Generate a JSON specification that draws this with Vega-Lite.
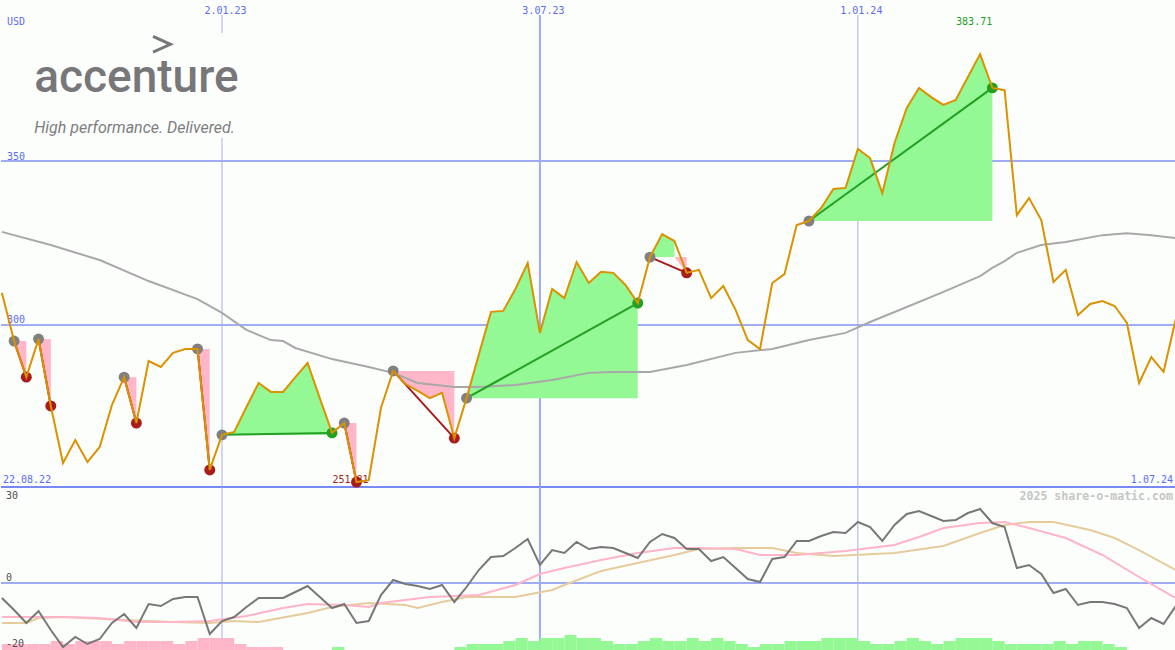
{
"$schema": "https://vega.github.io/schema/vega-lite/v6.json",
"background": "#fcfefc",
"padding": 0,
"spacing": 0,
"bounds": "flush",
"config": {"view": {"stroke": null}},
"datasets": {
"vgrid": [{"d":"2023-01-02","k":"year","t":"2.01.23"},{"d":"2023-07-03","k":"half","t":"3.07.23"},{"d":"2024-01-01","k":"year","t":"1.01.24"}],
"hgrid": [{"v":300,"t":"300"},{"v":350,"t":"350"}],
"price": [
{"d":"2022-08-29","p":309.8},{"d":"2022-09-05","p":295.1},{"d":"2022-09-12","p":284.1},{"d":"2022-09-19","p":295.7},{"d":"2022-09-26","p":275.3},{"d":"2022-10-03","p":257.9},{"d":"2022-10-10","p":264.9},{"d":"2022-10-17","p":258.2},{"d":"2022-10-24","p":262.8},{"d":"2022-10-31","p":275.6},{"d":"2022-11-07","p":284.1},{"d":"2022-11-14","p":270.1},{"d":"2022-11-21","p":289.0},{"d":"2022-11-28","p":287.2},{"d":"2022-12-05","p":291.5},{"d":"2022-12-12","p":292.7},{"d":"2022-12-19","p":292.7},{"d":"2022-12-26","p":255.8},{"d":"2023-01-02","p":266.5},{"d":"2023-01-09","p":267.4},{"d":"2023-01-16","p":275.0},{"d":"2023-01-23","p":282.3},{"d":"2023-01-30","p":279.6},{"d":"2023-02-06","p":279.6},{"d":"2023-02-13","p":284.1},{"d":"2023-02-20","p":288.4},{"d":"2023-02-27","p":277.7},{"d":"2023-03-06","p":267.1},{"d":"2023-03-13","p":270.1},{"d":"2023-03-20","p":252.1},{"d":"2023-03-27","p":252.7},{"d":"2023-04-03","p":274.7},{"d":"2023-04-10","p":286.0},{"d":"2023-04-17","p":282.0},{"d":"2023-04-24","p":279.9},{"d":"2023-05-01","p":277.7},{"d":"2023-05-08","p":279.3},{"d":"2023-05-15","p":265.5},{"d":"2023-05-22","p":277.7},{"d":"2023-05-29","p":290.9},{"d":"2023-06-05","p":304.0},{"d":"2023-06-12","p":304.3},{"d":"2023-06-19","p":311.0},{"d":"2023-06-26","p":318.9},{"d":"2023-07-03","p":297.6},{"d":"2023-07-10","p":311.0},{"d":"2023-07-17","p":308.2},{"d":"2023-07-24","p":319.2},{"d":"2023-07-31","p":312.8},{"d":"2023-08-07","p":316.2},{"d":"2023-08-14","p":315.9},{"d":"2023-08-21","p":312.2},{"d":"2023-08-28","p":306.7},{"d":"2023-09-04","p":320.7},{"d":"2023-09-11","p":327.7},{"d":"2023-09-18","p":325.6},{"d":"2023-09-25","p":315.9},{"d":"2023-10-02","p":316.8},{"d":"2023-10-09","p":308.2},{"d":"2023-10-16","p":311.9},{"d":"2023-10-23","p":304.6},{"d":"2023-10-30","p":295.4},{"d":"2023-11-06","p":292.7},{"d":"2023-11-13","p":312.8},{"d":"2023-11-20","p":315.5},{"d":"2023-11-27","p":330.5},{"d":"2023-12-04","p":331.7},{"d":"2023-12-11","p":335.7},{"d":"2023-12-18","p":341.5},{"d":"2023-12-25","p":341.8},{"d":"2024-01-01","p":353.7},{"d":"2024-01-08","p":350.9},{"d":"2024-01-15","p":340.2},{"d":"2024-01-22","p":355.5},{"d":"2024-01-29","p":366.2},{"d":"2024-02-05","p":372.3},{"d":"2024-02-12","p":369.5},{"d":"2024-02-19","p":367.1},{"d":"2024-02-26","p":368.6},{"d":"2024-03-04","p":375.6},{"d":"2024-03-11","p":382.6},{"d":"2024-03-18","p":372.3},{"d":"2024-03-25","p":371.6},{"d":"2024-04-01","p":333.5},{"d":"2024-04-08","p":338.7},{"d":"2024-04-15","p":332.0},{"d":"2024-04-22","p":313.1},{"d":"2024-04-29","p":316.8},{"d":"2024-05-06","p":303.0},{"d":"2024-05-13","p":306.4},{"d":"2024-05-20","p":307.3},{"d":"2024-05-27","p":305.8},{"d":"2024-06-03","p":300.6},{"d":"2024-06-10","p":282.3},{"d":"2024-06-17","p":290.2},{"d":"2024-06-24","p":285.7},{"d":"2024-07-01","p":301.8}
],
"ma": [
{"d":"2022-08-29","p":328.4},{"d":"2022-09-26","p":324.4},{"d":"2022-10-24","p":319.8},{"d":"2022-11-21","p":313.4},{"d":"2022-12-19","p":307.9},{"d":"2023-01-02","p":303.7},{"d":"2023-01-16","p":298.5},{"d":"2023-01-30","p":295.4},{"d":"2023-02-06","p":295.1},{"d":"2023-02-13","p":293.0},{"d":"2023-03-06","p":289.6},{"d":"2023-03-27","p":287.2},{"d":"2023-04-10","p":285.4},{"d":"2023-04-24","p":282.3},{"d":"2023-05-15","p":281.1},{"d":"2023-05-29","p":281.1},{"d":"2023-06-19","p":281.7},{"d":"2023-07-10","p":283.2},{"d":"2023-07-31","p":285.4},{"d":"2023-08-14","p":285.7},{"d":"2023-09-04","p":285.7},{"d":"2023-09-25","p":287.8},{"d":"2023-10-23","p":291.5},{"d":"2023-11-13","p":292.7},{"d":"2023-12-04","p":295.4},{"d":"2023-12-25","p":297.6},{"d":"2024-01-08","p":300.9},{"d":"2024-01-29","p":305.5},{"d":"2024-02-19","p":310.1},{"d":"2024-03-11","p":314.9},{"d":"2024-03-18","p":317.4},{"d":"2024-03-25","p":319.5},{"d":"2024-04-01","p":322.0},{"d":"2024-04-15","p":324.4},{"d":"2024-04-29","p":325.3},{"d":"2024-05-20","p":327.4},{"d":"2024-06-03","p":328.0},{"d":"2024-06-17","p":327.4},{"d":"2024-07-01","p":326.5}
],
"trades": [
{"t":1,"d":"2022-09-05","p":295.1,"r":"entry","res":"loss"},{"t":1,"d":"2022-09-12","p":284.1,"r":"loss","res":"loss"},
{"t":2,"d":"2022-09-19","p":295.7,"r":"entry","res":"loss"},{"t":2,"d":"2022-09-26","p":275.3,"r":"loss","res":"loss"},
{"t":3,"d":"2022-11-07","p":284.1,"r":"entry","res":"loss"},{"t":3,"d":"2022-11-14","p":270.1,"r":"loss","res":"loss"},
{"t":4,"d":"2022-12-19","p":292.7,"r":"entry","res":"loss"},{"t":4,"d":"2022-12-26","p":255.8,"r":"loss","res":"loss"},
{"t":5,"d":"2023-01-02","p":266.5,"r":"entry","res":"win"},{"t":5,"d":"2023-03-06","p":267.1,"r":"win","res":"win"},
{"t":6,"d":"2023-03-13","p":270.1,"r":"entry","res":"loss"},{"t":6,"d":"2023-03-20","p":252.1,"r":"loss","res":"loss"},
{"t":7,"d":"2023-04-10","p":286.0,"r":"entry","res":"loss"},{"t":7,"d":"2023-05-15","p":265.5,"r":"loss","res":"loss"},
{"t":8,"d":"2023-05-22","p":277.7,"r":"entry","res":"win"},{"t":8,"d":"2023-08-28","p":306.7,"r":"win","res":"win"},
{"t":9,"d":"2023-09-04","p":320.7,"r":"entry","res":"loss"},{"t":9,"d":"2023-09-25","p":315.9,"r":"loss","res":"loss"},
{"t":10,"d":"2023-12-04","p":331.7,"r":"entry","res":"win"},{"t":10,"d":"2024-03-18","p":372.3,"r":"win","res":"win"}
],
"fills": [
{"t":"1","c":"loss","d":"2022-09-05","p":295.1,"b":295.1},{"t":"1","c":"loss","d":"2022-09-12","p":284.1,"b":295.1},
{"t":"2","c":"loss","d":"2022-09-19","p":295.7,"b":295.7},{"t":"2","c":"loss","d":"2022-09-26","p":275.3,"b":295.7},
{"t":"3","c":"loss","d":"2022-11-07","p":284.1,"b":284.1},{"t":"3","c":"loss","d":"2022-11-14","p":270.1,"b":284.1},
{"t":"4","c":"loss","d":"2022-12-19","p":292.7,"b":292.7},{"t":"4","c":"loss","d":"2022-12-26","p":255.8,"b":292.7},
{"t":"5","c":"gain","d":"2023-01-02","p":266.5,"b":266.5},{"t":"5","c":"gain","d":"2023-01-09","p":267.4,"b":266.5},{"t":"5","c":"gain","d":"2023-01-16","p":275.0,"b":266.5},{"t":"5","c":"gain","d":"2023-01-23","p":282.3,"b":266.5},{"t":"5","c":"gain","d":"2023-01-30","p":279.6,"b":266.5},{"t":"5","c":"gain","d":"2023-02-06","p":279.6,"b":266.5},{"t":"5","c":"gain","d":"2023-02-13","p":284.1,"b":266.5},{"t":"5","c":"gain","d":"2023-02-20","p":288.4,"b":266.5},{"t":"5","c":"gain","d":"2023-02-27","p":277.7,"b":266.5},{"t":"5","c":"gain","d":"2023-03-06","p":267.1,"b":266.5},
{"t":"6","c":"loss","d":"2023-03-13","p":270.1,"b":270.1},{"t":"6","c":"loss","d":"2023-03-20","p":252.1,"b":270.1},
{"t":"7","c":"loss","d":"2023-04-10","p":286.0,"b":286.0},{"t":"7","c":"loss","d":"2023-04-17","p":282.0,"b":286.0},{"t":"7","c":"loss","d":"2023-04-24","p":279.9,"b":286.0},{"t":"7","c":"loss","d":"2023-05-01","p":277.7,"b":286.0},{"t":"7","c":"loss","d":"2023-05-08","p":279.3,"b":286.0},{"t":"7","c":"loss","d":"2023-05-15","p":265.5,"b":286.0},
{"t":"8","c":"gain","d":"2023-05-22","p":277.7,"b":277.7},{"t":"8","c":"gain","d":"2023-05-29","p":290.9,"b":277.7},{"t":"8","c":"gain","d":"2023-06-05","p":304.0,"b":277.7},{"t":"8","c":"gain","d":"2023-06-12","p":304.3,"b":277.7},{"t":"8","c":"gain","d":"2023-06-19","p":311.0,"b":277.7},{"t":"8","c":"gain","d":"2023-06-26","p":318.9,"b":277.7},{"t":"8","c":"gain","d":"2023-07-03","p":297.6,"b":277.7},{"t":"8","c":"gain","d":"2023-07-10","p":311.0,"b":277.7},{"t":"8","c":"gain","d":"2023-07-17","p":308.2,"b":277.7},{"t":"8","c":"gain","d":"2023-07-24","p":319.2,"b":277.7},{"t":"8","c":"gain","d":"2023-07-31","p":312.8,"b":277.7},{"t":"8","c":"gain","d":"2023-08-07","p":316.2,"b":277.7},{"t":"8","c":"gain","d":"2023-08-14","p":315.9,"b":277.7},{"t":"8","c":"gain","d":"2023-08-21","p":312.2,"b":277.7},{"t":"8","c":"gain","d":"2023-08-28","p":306.7,"b":277.7},
{"t":"9a","c":"gain","d":"2023-09-04","p":320.7,"b":320.7},{"t":"9a","c":"gain","d":"2023-09-11","p":327.7,"b":320.7},{"t":"9a","c":"gain","d":"2023-09-18","p":325.6,"b":320.7},
{"t":"9b","c":"loss","d":"2023-09-18","p":320.7,"b":320.7},{"t":"9b","c":"loss","d":"2023-09-25","p":315.9,"b":320.7},
{"t":"10","c":"gain","d":"2023-12-04","p":331.7,"b":331.7},{"t":"10","c":"gain","d":"2023-12-11","p":335.7,"b":331.7},{"t":"10","c":"gain","d":"2023-12-18","p":341.5,"b":331.7},{"t":"10","c":"gain","d":"2023-12-25","p":341.8,"b":331.7},{"t":"10","c":"gain","d":"2024-01-01","p":353.7,"b":331.7},{"t":"10","c":"gain","d":"2024-01-08","p":350.9,"b":331.7},{"t":"10","c":"gain","d":"2024-01-15","p":340.2,"b":331.7},{"t":"10","c":"gain","d":"2024-01-22","p":355.5,"b":331.7},{"t":"10","c":"gain","d":"2024-01-29","p":366.2,"b":331.7},{"t":"10","c":"gain","d":"2024-02-05","p":372.3,"b":331.7},{"t":"10","c":"gain","d":"2024-02-12","p":369.5,"b":331.7},{"t":"10","c":"gain","d":"2024-02-19","p":367.1,"b":331.7},{"t":"10","c":"gain","d":"2024-02-26","p":368.6,"b":331.7},{"t":"10","c":"gain","d":"2024-03-04","p":375.6,"b":331.7},{"t":"10","c":"gain","d":"2024-03-11","p":382.6,"b":331.7},{"t":"10","c":"gain","d":"2024-03-18","p":372.3,"b":331.7}
],
"mask": [
{"d":"2024-01-10T23:30:00Z","p":346.35,"b":346.35},{"d":"2024-01-15T00:00:00Z","p":340.2,"b":347.9},{"d":"2024-01-19T06:45:00Z","p":349.5,"b":349.5}
],
"hist": [
{"d":"2022-08-29","e":"2022-09-05","v":-20.56,"s":"neg"},{"d":"2022-09-05","e":"2022-09-12","v":-20.56,"s":"neg"},{"d":"2022-09-12","e":"2022-09-19","v":-20.56,"s":"neg"},{"d":"2022-09-19","e":"2022-09-26","v":-20.56,"s":"neg"},{"d":"2022-09-26","e":"2022-10-03","v":-19.55,"s":"neg"},{"d":"2022-10-03","e":"2022-10-10","v":-20.56,"s":"neg"},{"d":"2022-10-10","e":"2022-10-17","v":-19.55,"s":"neg"},{"d":"2022-10-17","e":"2022-10-24","v":-19.55,"s":"neg"},{"d":"2022-10-24","e":"2022-10-31","v":-19.55,"s":"neg"},{"d":"2022-10-31","e":"2022-11-07","v":-20.56,"s":"neg"},{"d":"2022-11-07","e":"2022-11-14","v":-19.55,"s":"neg"},{"d":"2022-11-14","e":"2022-11-21","v":-19.55,"s":"neg"},{"d":"2022-11-21","e":"2022-11-28","v":-19.55,"s":"neg"},{"d":"2022-11-28","e":"2022-12-05","v":-19.55,"s":"neg"},{"d":"2022-12-05","e":"2022-12-12","v":-20.56,"s":"neg"},{"d":"2022-12-12","e":"2022-12-19","v":-19.55,"s":"neg"},{"d":"2022-12-19","e":"2022-12-26","v":-18.54,"s":"neg"},{"d":"2022-12-26","e":"2023-01-02","v":-18.54,"s":"neg"},{"d":"2023-01-02","e":"2023-01-09","v":-18.54,"s":"neg"},{"d":"2023-01-09","e":"2023-01-16","v":-20.56,"s":"neg"},{"d":"2023-01-16","e":"2023-01-23","v":-21.57,"s":"neg"},{"d":"2023-01-23","e":"2023-01-30","v":-21.57,"s":"neg"},{"d":"2023-01-30","e":"2023-02-06","v":-21.57,"s":"neg"},
{"d":"2023-03-06","e":"2023-03-13","v":-21.57,"s":"pos"},
{"d":"2023-05-15","e":"2023-05-22","v":-21.57,"s":"pos"},{"d":"2023-05-22","e":"2023-05-29","v":-20.56,"s":"pos"},{"d":"2023-05-29","e":"2023-06-05","v":-20.56,"s":"pos"},{"d":"2023-06-05","e":"2023-06-12","v":-20.56,"s":"pos"},{"d":"2023-06-12","e":"2023-06-19","v":-19.55,"s":"pos"},{"d":"2023-06-19","e":"2023-06-26","v":-18.54,"s":"pos"},{"d":"2023-06-26","e":"2023-07-03","v":-19.55,"s":"pos"},{"d":"2023-07-03","e":"2023-07-10","v":-18.54,"s":"pos"},{"d":"2023-07-10","e":"2023-07-17","v":-18.54,"s":"pos"},{"d":"2023-07-17","e":"2023-07-24","v":-17.52,"s":"pos"},{"d":"2023-07-24","e":"2023-07-31","v":-18.54,"s":"pos"},{"d":"2023-07-31","e":"2023-08-07","v":-18.54,"s":"pos"},{"d":"2023-08-07","e":"2023-08-14","v":-19.55,"s":"pos"},{"d":"2023-08-14","e":"2023-08-21","v":-20.56,"s":"pos"},{"d":"2023-08-21","e":"2023-08-28","v":-20.56,"s":"pos"},{"d":"2023-08-28","e":"2023-09-04","v":-19.55,"s":"pos"},{"d":"2023-09-04","e":"2023-09-11","v":-18.54,"s":"pos"},{"d":"2023-09-11","e":"2023-09-18","v":-19.55,"s":"pos"},{"d":"2023-09-18","e":"2023-09-25","v":-19.55,"s":"pos"},{"d":"2023-09-25","e":"2023-10-02","v":-18.54,"s":"pos"},{"d":"2023-10-02","e":"2023-10-09","v":-19.55,"s":"pos"},{"d":"2023-10-09","e":"2023-10-16","v":-18.54,"s":"pos"},{"d":"2023-10-16","e":"2023-10-23","v":-19.55,"s":"pos"},{"d":"2023-10-23","e":"2023-10-30","v":-20.56,"s":"pos"},{"d":"2023-10-30","e":"2023-11-06","v":-21.57,"s":"pos"},{"d":"2023-11-06","e":"2023-11-13","v":-20.56,"s":"pos"},{"d":"2023-11-13","e":"2023-11-20","v":-20.56,"s":"pos"},{"d":"2023-11-20","e":"2023-11-27","v":-19.55,"s":"pos"},{"d":"2023-11-27","e":"2023-12-04","v":-19.55,"s":"pos"},{"d":"2023-12-04","e":"2023-12-11","v":-19.55,"s":"pos"},{"d":"2023-12-11","e":"2023-12-18","v":-18.54,"s":"pos"},{"d":"2023-12-18","e":"2023-12-25","v":-18.54,"s":"pos"},{"d":"2023-12-25","e":"2024-01-01","v":-18.54,"s":"pos"},{"d":"2024-01-01","e":"2024-01-08","v":-19.55,"s":"pos"},{"d":"2024-01-08","e":"2024-01-15","v":-20.56,"s":"pos"},{"d":"2024-01-15","e":"2024-01-22","v":-20.56,"s":"pos"},{"d":"2024-01-22","e":"2024-01-29","v":-19.55,"s":"pos"},{"d":"2024-01-29","e":"2024-02-05","v":-18.54,"s":"pos"},{"d":"2024-02-05","e":"2024-02-12","v":-19.55,"s":"pos"},{"d":"2024-02-12","e":"2024-02-19","v":-20.56,"s":"pos"},{"d":"2024-02-19","e":"2024-02-26","v":-19.55,"s":"pos"},{"d":"2024-02-26","e":"2024-03-04","v":-18.54,"s":"pos"},{"d":"2024-03-04","e":"2024-03-11","v":-18.54,"s":"pos"},{"d":"2024-03-11","e":"2024-03-18","v":-18.54,"s":"pos"},{"d":"2024-03-18","e":"2024-03-25","v":-19.55,"s":"pos"},{"d":"2024-03-25","e":"2024-04-01","v":-20.56,"s":"pos"},{"d":"2024-04-01","e":"2024-04-08","v":-20.56,"s":"pos"},{"d":"2024-04-08","e":"2024-04-15","v":-20.56,"s":"pos"},{"d":"2024-04-15","e":"2024-04-22","v":-20.56,"s":"pos"},{"d":"2024-04-22","e":"2024-04-29","v":-19.55,"s":"pos"},{"d":"2024-04-29","e":"2024-05-06","v":-20.56,"s":"pos"},{"d":"2024-05-06","e":"2024-05-13","v":-19.55,"s":"pos"},{"d":"2024-05-13","e":"2024-05-20","v":-19.55,"s":"pos"},{"d":"2024-05-20","e":"2024-05-27","v":-20.56,"s":"pos"},{"d":"2024-05-27","e":"2024-06-03","v":-21.57,"s":"pos"}
],
"osc": [
{"d":"2022-08-29","v":-5.06},{"d":"2022-09-05","v":-9.10},{"d":"2022-09-12","v":-13.48},{"d":"2022-09-19","v":-9.44},{"d":"2022-09-26","v":-15.84},{"d":"2022-10-03","v":-21.57},{"d":"2022-10-10","v":-18.20},{"d":"2022-10-17","v":-20.56},{"d":"2022-10-24","v":-18.87},{"d":"2022-10-31","v":-13.48},{"d":"2022-11-07","v":-10.45},{"d":"2022-11-14","v":-15.17},{"d":"2022-11-21","v":-7.08},{"d":"2022-11-28","v":-7.75},{"d":"2022-12-05","v":-5.39},{"d":"2022-12-12","v":-4.72},{"d":"2022-12-19","v":-4.72},{"d":"2022-12-26","v":-17.19},{"d":"2023-01-02","v":-12.81},{"d":"2023-01-09","v":-11.46},{"d":"2023-01-16","v":-8.09},{"d":"2023-01-23","v":-5.06},{"d":"2023-01-30","v":-5.06},{"d":"2023-02-06","v":-5.06},{"d":"2023-02-13","v":-3.03},{"d":"2023-02-20","v":-1.01},{"d":"2023-02-27","v":-4.72},{"d":"2023-03-06","v":-8.43},{"d":"2023-03-13","v":-7.08},{"d":"2023-03-20","v":-13.48},{"d":"2023-03-27","v":-12.81},{"d":"2023-04-03","v":-4.04},{"d":"2023-04-10","v":1.01},{"d":"2023-04-17","v":-0.34},{"d":"2023-04-24","v":-1.01},{"d":"2023-05-01","v":-2.02},{"d":"2023-05-08","v":-0.67},{"d":"2023-05-15","v":-6.40},{"d":"2023-05-22","v":-1.35},{"d":"2023-05-29","v":4.38},{"d":"2023-06-05","v":8.76},{"d":"2023-06-12","v":9.10},{"d":"2023-06-19","v":11.80},{"d":"2023-06-26","v":14.83},{"d":"2023-07-03","v":6.07},{"d":"2023-07-10","v":11.12},{"d":"2023-07-17","v":10.11},{"d":"2023-07-24","v":13.82},{"d":"2023-07-31","v":11.46},{"d":"2023-08-07","v":12.13},{"d":"2023-08-14","v":11.80},{"d":"2023-08-21","v":10.11},{"d":"2023-08-28","v":8.43},{"d":"2023-09-04","v":13.82},{"d":"2023-09-11","v":16.52},{"d":"2023-09-18","v":15.17},{"d":"2023-09-25","v":11.46},{"d":"2023-10-02","v":11.46},{"d":"2023-10-09","v":7.41},{"d":"2023-10-16","v":8.76},{"d":"2023-10-23","v":5.06},{"d":"2023-10-30","v":1.35},{"d":"2023-11-06","v":0.34},{"d":"2023-11-13","v":8.09},{"d":"2023-11-20","v":8.76},{"d":"2023-11-27","v":14.16},{"d":"2023-12-04","v":14.16},{"d":"2023-12-11","v":15.84},{"d":"2023-12-18","v":17.19},{"d":"2023-12-25","v":16.85},{"d":"2024-01-01","v":20.56},{"d":"2024-01-08","v":18.87},{"d":"2024-01-15","v":14.16},{"d":"2024-01-22","v":19.55},{"d":"2024-01-29","v":23.26},{"d":"2024-02-05","v":24.27},{"d":"2024-02-12","v":22.58},{"d":"2024-02-19","v":20.90},{"d":"2024-02-26","v":21.23},{"d":"2024-03-04","v":23.59},{"d":"2024-03-11","v":24.94},{"d":"2024-03-18","v":20.22},{"d":"2024-03-25","v":18.87},{"d":"2024-04-01","v":5.06},{"d":"2024-04-08","v":6.07},{"d":"2024-04-15","v":3.03},{"d":"2024-04-22","v":-3.37},{"d":"2024-04-29","v":-2.02},{"d":"2024-05-06","v":-7.41},{"d":"2024-05-13","v":-6.40},{"d":"2024-05-20","v":-6.40},{"d":"2024-05-27","v":-7.08},{"d":"2024-06-03","v":-8.43},{"d":"2024-06-10","v":-15.17},{"d":"2024-06-17","v":-11.80},{"d":"2024-06-24","v":-13.82},{"d":"2024-07-01","v":-7.75}
],
"sig1": [
{"d":"2022-08-29","v":-11.46},{"d":"2022-09-12","v":-11.46},{"d":"2022-10-03","v":-11.46},{"d":"2022-10-24","v":-11.80},{"d":"2022-11-14","v":-13.14},{"d":"2022-12-05","v":-13.14},{"d":"2022-12-26","v":-12.81},{"d":"2023-01-16","v":-11.12},{"d":"2023-02-06","v":-8.43},{"d":"2023-02-20","v":-7.08},{"d":"2023-03-13","v":-7.41},{"d":"2023-03-27","v":-8.09},{"d":"2023-04-03","v":-6.74},{"d":"2023-04-17","v":-5.73},{"d":"2023-05-01","v":-4.72},{"d":"2023-05-29","v":-4.04},{"d":"2023-06-19","v":-0.67},{"d":"2023-07-03","v":3.03},{"d":"2023-07-17","v":5.06},{"d":"2023-08-07","v":7.75},{"d":"2023-08-28","v":10.11},{"d":"2023-09-18","v":11.80},{"d":"2023-10-02","v":11.80},{"d":"2023-10-23","v":11.46},{"d":"2023-11-06","v":9.44},{"d":"2023-11-27","v":9.44},{"d":"2023-12-25","v":10.79},{"d":"2024-01-22","v":12.81},{"d":"2024-02-05","v":15.50},{"d":"2024-02-19","v":18.54},{"d":"2024-03-11","v":20.22},{"d":"2024-03-25","v":20.56},{"d":"2024-04-08","v":18.54},{"d":"2024-04-29","v":15.17},{"d":"2024-05-20","v":9.44},{"d":"2024-06-10","v":2.02},{"d":"2024-07-01","v":-5.06}
],
"sig2": [
{"d":"2022-08-29","v":-13.48},{"d":"2022-09-12","v":-13.48},{"d":"2022-09-19","v":-11.80},{"d":"2022-10-03","v":-11.46},{"d":"2022-11-07","v":-12.47},{"d":"2022-12-05","v":-13.14},{"d":"2022-12-26","v":-13.48},{"d":"2023-01-09","v":-12.81},{"d":"2023-01-23","v":-13.14},{"d":"2023-02-20","v":-10.11},{"d":"2023-03-06","v":-8.09},{"d":"2023-03-27","v":-6.74},{"d":"2023-04-17","v":-7.41},{"d":"2023-04-24","v":-8.43},{"d":"2023-05-08","v":-6.40},{"d":"2023-05-22","v":-4.72},{"d":"2023-06-19","v":-4.72},{"d":"2023-07-10","v":-2.36},{"d":"2023-07-17","v":-0.67},{"d":"2023-08-07","v":4.04},{"d":"2023-08-28","v":6.74},{"d":"2023-09-18","v":9.44},{"d":"2023-10-02","v":11.46},{"d":"2023-10-23","v":11.80},{"d":"2023-11-13","v":11.80},{"d":"2023-11-27","v":10.11},{"d":"2023-12-18","v":9.10},{"d":"2024-01-22","v":10.11},{"d":"2024-02-19","v":12.47},{"d":"2024-03-11","v":16.85},{"d":"2024-03-25","v":19.55},{"d":"2024-04-08","v":20.56},{"d":"2024-04-22","v":20.56},{"d":"2024-05-13","v":17.86},{"d":"2024-05-27","v":15.17},{"d":"2024-06-10","v":11.12},{"d":"2024-07-01","v":4.38}
],
"ilab": [{"v":30,"t":"30"},{"v":-20,"t":"-20"}]
},
"vconcat": [
{
"width": 1175, "height": 487,
"resolve": {"scale": {"color": "independent"}},
"layer": [
{"data": {"name": "hgrid"},
 "mark": {"type": "rule", "color": "#a0acf4", "strokeWidth": 2},
 "encoding": {"y": {"field": "v", "type": "quantitative", "scale": {"domain": [250.6, 399.1], "zero": false, "nice": false}, "axis": null}}},
{"data": {"name": "vgrid"}, "transform": [{"filter": "datum.k == 'half'"}],
 "mark": {"type": "rule", "color": "#9eaaf2", "strokeWidth": 2},
 "encoding": {"x": {"field": "d", "type": "temporal", "scale": {"type": "utc", "domain": [{"year":2022,"month":8,"date":28,"hours":12,"utc":true},{"year":2024,"month":7,"date":1,"hours":3,"utc":true}]}, "axis": null},
  "y": {"datum": 394.5, "scale": {"domain": [250.6, 399.1], "zero": false, "nice": false}, "axis": null}, "y2": {"datum": 250.6}}},
{"data": {"name": "vgrid"}, "transform": [{"filter": "datum.k == 'year'"}],
 "mark": {"type": "rule", "color": "#a9b1e2", "strokeWidth": 1},
 "encoding": {"x": {"field": "d", "type": "temporal", "scale": {"type": "utc", "domain": [{"year":2022,"month":8,"date":28,"hours":12,"utc":true},{"year":2024,"month":7,"date":1,"hours":3,"utc":true}]}, "axis": null},
  "y": {"datum": 394.5, "scale": {"domain": [250.6, 399.1], "zero": false, "nice": false}, "axis": null}, "y2": {"datum": 250.6}}},
{"data": {"name": "vgrid"},
 "mark": {"type": "text", "font": "DejaVu Sans Mono", "fontSize": 10, "color": "#5b6cf2", "align": "center", "baseline": "alphabetic", "dx": 3.5, "dy": 13.5},
 "encoding": {"x": {"field": "d", "type": "temporal", "scale": {"type": "utc", "domain": [{"year":2022,"month":8,"date":28,"hours":12,"utc":true},{"year":2024,"month":7,"date":1,"hours":3,"utc":true}]}, "axis": null},
  "y": {"datum": 399.1, "scale": {"domain": [250.6, 399.1], "zero": false, "nice": false}, "axis": null}, "text": {"field": "t"}}},
{"data": {"values": [{}]},
 "mark": {"type": "rule", "color": "#7888f4", "strokeWidth": 2},
 "encoding": {"y": {"datum": 250.6, "scale": {"domain": [250.6, 399.1], "zero": false, "nice": false}, "axis": null}}},
{"data": {"name": "hgrid"},
 "mark": {"type": "text", "font": "DejaVu Sans Mono", "fontSize": 10, "color": "#5b6cf2", "align": "left", "baseline": "alphabetic", "dx": 6, "dy": -1.5},
 "encoding": {"x": {"datum": {"year":2022,"month":8,"date":28,"hours":12,"utc":true}, "type": "temporal", "scale": {"type": "utc", "domain": [{"year":2022,"month":8,"date":28,"hours":12,"utc":true},{"year":2024,"month":7,"date":1,"hours":3,"utc":true}]}, "axis": null},
  "y": {"field": "v", "type": "quantitative", "scale": {"domain": [250.6, 399.1], "zero": false, "nice": false}, "axis": null}, "text": {"field": "t"}}},
{"data": {"values": [{"t": "USD"}]},
 "mark": {"type": "text", "font": "DejaVu Sans Mono", "fontSize": 10, "color": "#5b6cf2", "align": "left", "baseline": "alphabetic", "dx": 6, "dy": 25},
 "encoding": {"x": {"datum": {"year":2022,"month":8,"date":28,"hours":12,"utc":true}, "type": "temporal", "scale": {"type": "utc", "domain": [{"year":2022,"month":8,"date":28,"hours":12,"utc":true},{"year":2024,"month":7,"date":1,"hours":3,"utc":true}]}, "axis": null},
  "y": {"datum": 399.1, "scale": {"domain": [250.6, 399.1], "zero": false, "nice": false}, "axis": null}, "text": {"field": "t"}}},
{"data": {"values": [{}]},
 "mark": {"type": "rect", "color": "#fcfefc"},
 "encoding": {"x": {"datum": {"year":2022,"month":9,"date":11,"hours":20,"utc":true}, "type": "temporal", "scale": {"type": "utc", "domain": [{"year":2022,"month":8,"date":28,"hours":12,"utc":true},{"year":2024,"month":7,"date":1,"hours":3,"utc":true}]}, "axis": null},
  "x2": {"datum": {"year":2023,"month":1,"date":15,"hours":18,"utc":true}},
  "y": {"datum": 389.0, "scale": {"domain": [250.6, 399.1], "zero": false, "nice": false}, "axis": null}, "y2": {"datum": 357.0}}},
{"data": {"values": [{}]},
 "mark": {"type": "point", "shape": "M -1 -0.9 L 1 0 L -1 0.9", "filled": false, "size": 300, "strokeWidth": 3, "color": "#77777a", "opacity": 1},
 "encoding": {"x": {"datum": {"year":2022,"month":11,"date":28,"hours":12,"utc":true}, "type": "temporal", "scale": {"type": "utc", "domain": [{"year":2022,"month":8,"date":28,"hours":12,"utc":true},{"year":2024,"month":7,"date":1,"hours":3,"utc":true}]}, "axis": null},
  "y": {"datum": 385.6, "scale": {"domain": [250.6, 399.1], "zero": false, "nice": false}, "axis": null}}},
{"data": {"values": [{"t": "accenture"}]},
 "mark": {"type": "text", "font": "Roboto", "fontSize": 46, "fontWeight": 500, "color": "#77777a", "align": "left", "baseline": "alphabetic"},
 "encoding": {"x": {"datum": {"year":2022,"month":9,"date":16,"hours":12,"utc":true}, "type": "temporal", "scale": {"type": "utc", "domain": [{"year":2022,"month":8,"date":28,"hours":12,"utc":true},{"year":2024,"month":7,"date":1,"hours":3,"utc":true}]}, "axis": null},
  "y": {"datum": 371.0, "scale": {"domain": [250.6, 399.1], "zero": false, "nice": false}, "axis": null}, "text": {"field": "t"}}},
{"data": {"values": [{"t": "High performance. Delivered."}]},
 "mark": {"type": "text", "font": "Roboto", "fontSize": 16, "fontStyle": "italic", "color": "#7d7d80", "align": "left", "baseline": "alphabetic"},
 "encoding": {"x": {"datum": {"year":2022,"month":9,"date":16,"hours":12,"utc":true}, "type": "temporal", "scale": {"type": "utc", "domain": [{"year":2022,"month":8,"date":28,"hours":12,"utc":true},{"year":2024,"month":7,"date":1,"hours":3,"utc":true}]}, "axis": null},
  "y": {"datum": 358.4, "scale": {"domain": [250.6, 399.1], "zero": false, "nice": false}, "axis": null}, "text": {"field": "t"}}},
{"data": {"name": "fills"},
 "mark": {"type": "area", "opacity": 1},
 "encoding": {"x": {"field": "d", "type": "temporal", "scale": {"type": "utc", "domain": [{"year":2022,"month":8,"date":28,"hours":12,"utc":true},{"year":2024,"month":7,"date":1,"hours":3,"utc":true}]}, "axis": null},
  "y": {"field": "p", "type": "quantitative", "stack": null, "scale": {"domain": [250.6, 399.1], "zero": false, "nice": false}, "axis": null},
  "y2": {"field": "b"},
  "color": {"field": "c", "type": "nominal", "scale": {"domain": ["gain", "loss"], "range": ["#94f894", "#ffb6c8"]}, "legend": null},
  "detail": {"field": "t", "type": "nominal"}}},
{"data": {"name": "mask"},
 "mark": {"type": "area", "color": "#fcfefc", "opacity": 1},
 "encoding": {"x": {"field": "d", "type": "temporal", "scale": {"type": "utc", "domain": [{"year":2022,"month":8,"date":28,"hours":12,"utc":true},{"year":2024,"month":7,"date":1,"hours":3,"utc":true}]}, "axis": null},
  "y": {"field": "p", "type": "quantitative", "stack": null, "scale": {"domain": [250.6, 399.1], "zero": false, "nice": false}, "axis": null},
  "y2": {"field": "b"}}},
{"data": {"name": "ma"},
 "mark": {"type": "line", "color": "#a8a8a8", "strokeWidth": 2, "clip": true},
 "encoding": {"x": {"field": "d", "type": "temporal", "scale": {"type": "utc", "domain": [{"year":2022,"month":8,"date":28,"hours":12,"utc":true},{"year":2024,"month":7,"date":1,"hours":3,"utc":true}]}, "axis": null},
  "y": {"field": "p", "type": "quantitative", "scale": {"domain": [250.6, 399.1], "zero": false, "nice": false}, "axis": null}}},
{"data": {"name": "trades"},
 "mark": {"type": "line", "strokeWidth": 2},
 "encoding": {"x": {"field": "d", "type": "temporal", "scale": {"type": "utc", "domain": [{"year":2022,"month":8,"date":28,"hours":12,"utc":true},{"year":2024,"month":7,"date":1,"hours":3,"utc":true}]}, "axis": null},
  "y": {"field": "p", "type": "quantitative", "scale": {"domain": [250.6, 399.1], "zero": false, "nice": false}, "axis": null},
  "detail": {"field": "t", "type": "nominal"},
  "color": {"field": "res", "type": "nominal", "scale": {"domain": ["win", "loss"], "range": ["#22a022", "#a81c1c"]}, "legend": null}}},
{"data": {"values": [{"d": "2023-03-20", "p": 251.81, "t": "251.81"}]},
 "mark": {"type": "text", "font": "DejaVu Sans Mono", "fontSize": 10, "color": "#a81c1c", "align": "center", "baseline": "alphabetic", "dx": -6},
 "encoding": {"x": {"field": "d", "type": "temporal", "scale": {"type": "utc", "domain": [{"year":2022,"month":8,"date":28,"hours":12,"utc":true},{"year":2024,"month":7,"date":1,"hours":3,"utc":true}]}, "axis": null},
  "y": {"field": "p", "type": "quantitative", "scale": {"domain": [250.6, 399.1], "zero": false, "nice": false}, "axis": null}, "text": {"field": "t"}}},
{"data": {"values": [{"d": "2024-03-11", "p": 383.71, "t": "383.71"}]},
 "mark": {"type": "text", "font": "DejaVu Sans Mono", "fontSize": 10, "color": "#22a022", "align": "center", "baseline": "alphabetic", "dx": -6, "dy": -25},
 "encoding": {"x": {"field": "d", "type": "temporal", "scale": {"type": "utc", "domain": [{"year":2022,"month":8,"date":28,"hours":12,"utc":true},{"year":2024,"month":7,"date":1,"hours":3,"utc":true}]}, "axis": null},
  "y": {"field": "p", "type": "quantitative", "scale": {"domain": [250.6, 399.1], "zero": false, "nice": false}, "axis": null}, "text": {"field": "t"}}},
{"data": {"name": "trades"},
 "mark": {"type": "point", "filled": true, "size": 120, "opacity": 1},
 "encoding": {"x": {"field": "d", "type": "temporal", "scale": {"type": "utc", "domain": [{"year":2022,"month":8,"date":28,"hours":12,"utc":true},{"year":2024,"month":7,"date":1,"hours":3,"utc":true}]}, "axis": null},
  "y": {"field": "p", "type": "quantitative", "scale": {"domain": [250.6, 399.1], "zero": false, "nice": false}, "axis": null},
  "color": {"field": "r", "type": "nominal", "scale": {"domain": ["entry", "win", "loss"], "range": ["#808080", "#22a022", "#a81c1c"]}, "legend": null}}},
{"data": {"name": "price"},
 "mark": {"type": "line", "color": "#da9200", "strokeWidth": 2, "clip": true},
 "encoding": {"x": {"field": "d", "type": "temporal", "scale": {"type": "utc", "domain": [{"year":2022,"month":8,"date":28,"hours":12,"utc":true},{"year":2024,"month":7,"date":1,"hours":3,"utc":true}]}, "axis": null},
  "y": {"field": "p", "type": "quantitative", "scale": {"domain": [250.6, 399.1], "zero": false, "nice": false}, "axis": null}}},
{"data": {"values": [{"t": "22.08.22"}]},
 "mark": {"type": "text", "font": "DejaVu Sans Mono", "fontSize": 10, "color": "#5b6cf2", "align": "left", "baseline": "alphabetic", "dx": 2},
 "encoding": {"x": {"datum": {"year":2022,"month":8,"date":28,"hours":12,"utc":true}, "type": "temporal", "scale": {"type": "utc", "domain": [{"year":2022,"month":8,"date":28,"hours":12,"utc":true},{"year":2024,"month":7,"date":1,"hours":3,"utc":true}]}, "axis": null},
  "y": {"datum": 251.8, "scale": {"domain": [250.6, 399.1], "zero": false, "nice": false}, "axis": null}, "text": {"field": "t"}}},
{"data": {"values": [{"t": "1.07.24"}]},
 "mark": {"type": "text", "font": "DejaVu Sans Mono", "fontSize": 10, "color": "#5b6cf2", "align": "right", "baseline": "alphabetic", "dx": -3},
 "encoding": {"x": {"datum": {"year":2024,"month":7,"date":1,"hours":3,"utc":true}, "type": "temporal", "scale": {"type": "utc", "domain": [{"year":2022,"month":8,"date":28,"hours":12,"utc":true},{"year":2024,"month":7,"date":1,"hours":3,"utc":true}]}, "axis": null},
  "y": {"datum": 251.8, "scale": {"domain": [250.6, 399.1], "zero": false, "nice": false}, "axis": null}, "text": {"field": "t"}}}
]
},
{
"width": 1175, "height": 163,
"layer": [
{"data": {"values": [{"v": 0}]},
 "mark": {"type": "rule", "color": "#a0acf4", "strokeWidth": 2},
 "encoding": {"y": {"field": "v", "type": "quantitative", "scale": {"domain": [-22.58, 32.36], "zero": false, "nice": false}, "axis": null}}},
{"data": {"name": "vgrid"}, "transform": [{"filter": "datum.k == 'half'"}],
 "mark": {"type": "rule", "color": "#9eaaf2", "strokeWidth": 2},
 "encoding": {"x": {"field": "d", "type": "temporal", "scale": {"type": "utc", "domain": [{"year":2022,"month":8,"date":28,"hours":12,"utc":true},{"year":2024,"month":7,"date":1,"hours":3,"utc":true}]}, "axis": null}}},
{"data": {"name": "vgrid"}, "transform": [{"filter": "datum.k == 'year'"}],
 "mark": {"type": "rule", "color": "#a9b1e2", "strokeWidth": 1},
 "encoding": {"x": {"field": "d", "type": "temporal", "scale": {"type": "utc", "domain": [{"year":2022,"month":8,"date":28,"hours":12,"utc":true},{"year":2024,"month":7,"date":1,"hours":3,"utc":true}]}, "axis": null}}},
{"data": {"name": "hist"},
 "mark": {"type": "rect"},
 "encoding": {"x": {"field": "d", "type": "temporal", "scale": {"type": "utc", "domain": [{"year":2022,"month":8,"date":28,"hours":12,"utc":true},{"year":2024,"month":7,"date":1,"hours":3,"utc":true}]}, "axis": null},
  "x2": {"field": "e"},
  "y": {"field": "v", "type": "quantitative", "scale": {"domain": [-22.58, 32.36], "zero": false, "nice": false}, "axis": null},
  "y2": {"datum": -22.58},
  "color": {"field": "s", "type": "nominal", "scale": {"domain": ["pos", "neg"], "range": ["#94f894", "#ffb6c8"]}, "legend": null}}},
{"data": {"name": "ilab"},
 "mark": {"type": "text", "font": "DejaVu Sans Mono", "fontSize": 10, "color": "#505050", "align": "left", "baseline": "alphabetic", "dx": 5, "dy": 4.5},
 "encoding": {"x": {"datum": {"year":2022,"month":8,"date":28,"hours":12,"utc":true}, "type": "temporal", "scale": {"type": "utc", "domain": [{"year":2022,"month":8,"date":28,"hours":12,"utc":true},{"year":2024,"month":7,"date":1,"hours":3,"utc":true}]}, "axis": null},
  "y": {"field": "v", "type": "quantitative", "scale": {"domain": [-22.58, 32.36], "zero": false, "nice": false}, "axis": null}, "text": {"field": "t"}}},
{"data": {"values": [{"v": 0, "t": "0"}]},
 "mark": {"type": "text", "font": "DejaVu Sans Mono", "fontSize": 10, "color": "#505050", "align": "left", "baseline": "alphabetic", "dx": 5, "dy": -2},
 "encoding": {"x": {"datum": {"year":2022,"month":8,"date":28,"hours":12,"utc":true}, "type": "temporal", "scale": {"type": "utc", "domain": [{"year":2022,"month":8,"date":28,"hours":12,"utc":true},{"year":2024,"month":7,"date":1,"hours":3,"utc":true}]}, "axis": null},
  "y": {"field": "v", "type": "quantitative", "scale": {"domain": [-22.58, 32.36], "zero": false, "nice": false}, "axis": null}, "text": {"field": "t"}}},
{"data": {"name": "sig2"},
 "mark": {"type": "line", "color": "#e6cc9c", "strokeWidth": 2, "clip": true},
 "encoding": {"x": {"field": "d", "type": "temporal", "scale": {"type": "utc", "domain": [{"year":2022,"month":8,"date":28,"hours":12,"utc":true},{"year":2024,"month":7,"date":1,"hours":3,"utc":true}]}, "axis": null},
  "y": {"field": "v", "type": "quantitative", "scale": {"domain": [-22.58, 32.36], "zero": false, "nice": false}, "axis": null}}},
{"data": {"name": "sig1"},
 "mark": {"type": "line", "color": "#ffb4c8", "strokeWidth": 2, "clip": true},
 "encoding": {"x": {"field": "d", "type": "temporal", "scale": {"type": "utc", "domain": [{"year":2022,"month":8,"date":28,"hours":12,"utc":true},{"year":2024,"month":7,"date":1,"hours":3,"utc":true}]}, "axis": null},
  "y": {"field": "v", "type": "quantitative", "scale": {"domain": [-22.58, 32.36], "zero": false, "nice": false}, "axis": null}}},
{"data": {"name": "osc"},
 "mark": {"type": "line", "color": "#777777", "strokeWidth": 2, "clip": true},
 "encoding": {"x": {"field": "d", "type": "temporal", "scale": {"type": "utc", "domain": [{"year":2022,"month":8,"date":28,"hours":12,"utc":true},{"year":2024,"month":7,"date":1,"hours":3,"utc":true}]}, "axis": null},
  "y": {"field": "v", "type": "quantitative", "scale": {"domain": [-22.58, 32.36], "zero": false, "nice": false}, "axis": null}}},
{"data": {"values": [{"t": "2025 share-o-matic.com"}]},
 "mark": {"type": "text", "font": "DejaVu Sans Mono", "fontSize": 11.6, "fontWeight": "bold", "color": "#c6c6c6", "align": "right", "baseline": "alphabetic", "dx": -3},
 "encoding": {"x": {"datum": {"year":2024,"month":7,"date":1,"hours":3,"utc":true}, "type": "temporal", "scale": {"type": "utc", "domain": [{"year":2022,"month":8,"date":28,"hours":12,"utc":true},{"year":2024,"month":7,"date":1,"hours":3,"utc":true}]}, "axis": null},
  "y": {"datum": 27.97, "scale": {"domain": [-22.58, 32.36], "zero": false, "nice": false}, "axis": null}, "text": {"field": "t"}}}
]
}
]
}
